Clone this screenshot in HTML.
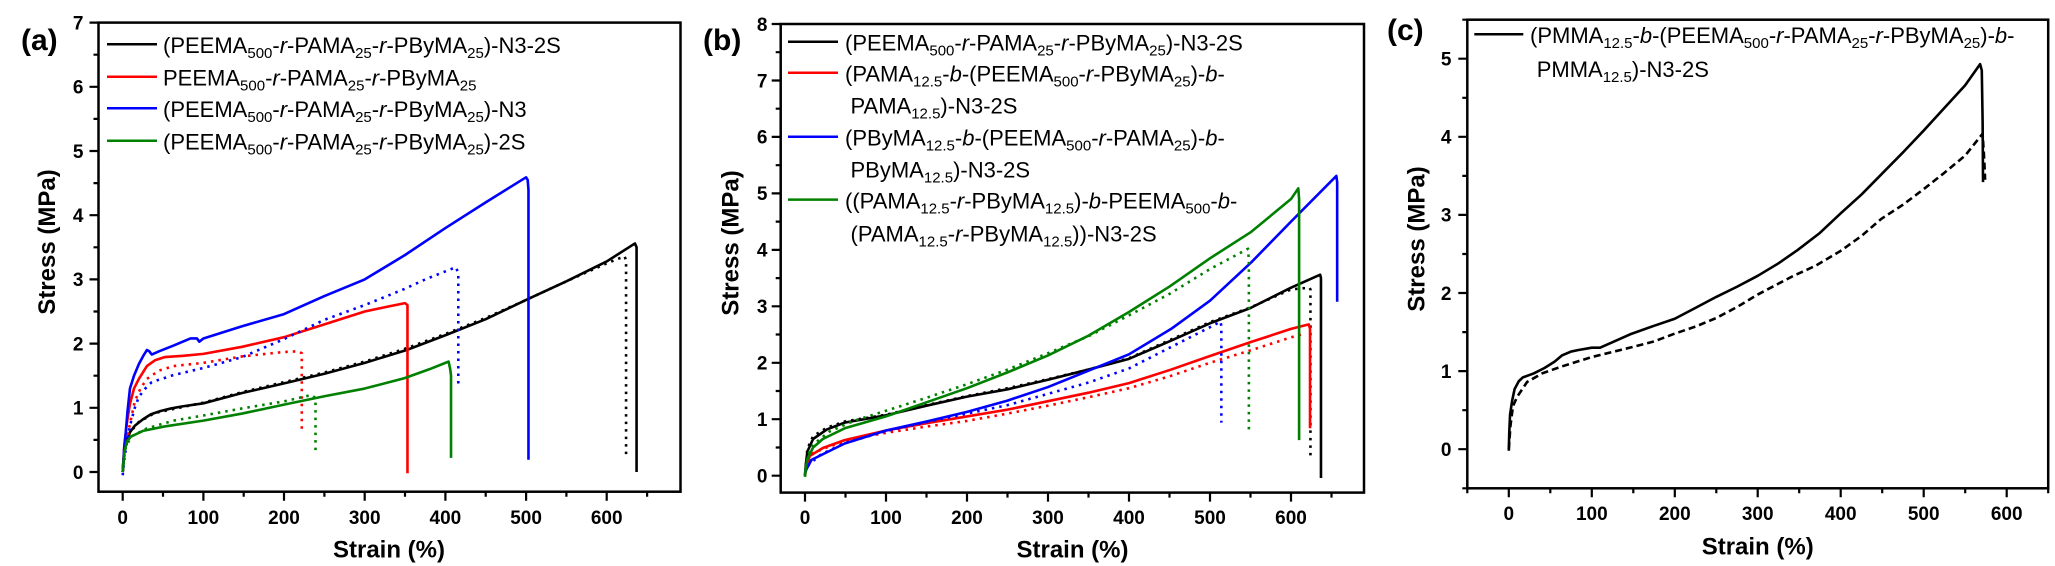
<!DOCTYPE html>
<html><head><meta charset="utf-8"><style>
html,body{margin:0;padding:0;background:#fff;}
svg{display:block;font-family:"Liberation Sans",Arial,sans-serif;}
.fr{fill:none;stroke:#000;stroke-width:2.5;}
.tk{stroke:#000;stroke-width:2.2;fill:none;}
.tl{font-size:19px;font-weight:bold;fill:#000;}
.at{font-size:24px;font-weight:bold;fill:#000;}
.pl{font-size:30px;font-weight:bold;fill:#000;}
.lg{font-size:22px;fill:#000;}
.sb{font-size:15px;}
.it{font-style:italic;}
.d path{fill:none;stroke-width:2.6;vector-effect:non-scaling-stroke;stroke-linejoin:round;}
.d path.dt{stroke-dasharray:2.5 5;}
.d path.ds{stroke-dasharray:7 4;}
</style></head><body>
<svg width="2055" height="566" viewBox="0 0 2055 566" xmlns="http://www.w3.org/2000/svg">
<rect width="2055" height="566" fill="#fff"/>

<!-- ================= PANEL A ================= -->
<text class="pl" x="21" y="50">(a)</text>
<rect class="fr" x="98.5" y="22.6" width="582" height="469.1"/>
<g class="tk">
<path d="M89.5,472H98.5M89.5,407.8H98.5M89.5,343.6H98.5M89.5,279.4H98.5M89.5,215.2H98.5M89.5,151H98.5M89.5,86.8H98.5M89.5,22.6H98.5"/>
<path d="M93.5,439.9H98.5M93.5,375.7H98.5M93.5,311.5H98.5M93.5,247.3H98.5M93.5,183.1H98.5M93.5,118.9H98.5M93.5,54.7H98.5"/>
<path d="M122.7,491.7V500.7M203.4,491.7V500.7M284,491.7V500.7M364.7,491.7V500.7M445.4,491.7V500.7M526.1,491.7V500.7M606.7,491.7V500.7"/>
<path d="M163,491.7V496.7M243.7,491.7V496.7M324.4,491.7V496.7M405,491.7V496.7M485.7,491.7V496.7M566.4,491.7V496.7M647.1,491.7V496.7"/>
</g>
<g class="tl" text-anchor="end">
<text x="83.5" y="478.8">0</text><text x="83.5" y="414.6">1</text><text x="83.5" y="350.4">2</text><text x="83.5" y="286.2">3</text><text x="83.5" y="222">4</text><text x="83.5" y="157.8">5</text><text x="83.5" y="93.6">6</text><text x="83.5" y="29.4">7</text>
</g>
<g class="tl" text-anchor="middle">
<text x="122.7" y="524">0</text><text x="203.4" y="524">100</text><text x="284" y="524">200</text><text x="364.7" y="524">300</text><text x="445.4" y="524">400</text><text x="526.1" y="524">500</text><text x="606.7" y="524">600</text>
</g>
<text class="at" text-anchor="middle" x="389" y="557.5">Strain (%)</text>
<text class="at" text-anchor="middle" transform="translate(55.2,242) rotate(-90)">Stress (MPa)</text>

<g class="d" transform="matrix(0.8067,0,0,-64.2,122.7,472)">
<path stroke="#000" class="dt" d="M0,0 L3,0.4 8,0.6 20,0.78 40,0.92 70,1.0 100,1.08 150,1.25 200,1.4 250,1.55 300,1.72 350,1.92 400,2.15 450,2.4 500,2.68 550,2.97 600,3.25 622,3.36 624,3.3 624,0.2"/>
<path stroke="#000" d="M0,0 L1,0.2 2.5,0.35 4,0.44 9,0.62 15,0.72 25,0.82 35,0.9 47,0.95 60,0.99 73,1.02 100,1.07 148,1.23 200,1.38 250,1.53 300,1.7 352,1.9 400,2.13 450,2.38 500,2.68 550,2.97 600,3.28 635,3.56 637,3.5 637,0"/>
<path stroke="#ff0000" class="dt" d="M0,0 L3,0.4 9,0.75 15,1.1 22,1.3 30,1.45 45,1.58 63,1.65 100,1.7 148,1.8 200,1.87 218,1.88 222,1.85 222,0.64"/>
<path stroke="#ff0000" d="M0,0 L2,0.4 5,0.75 9,1.06 14,1.3 20,1.45 30,1.65 40,1.74 52,1.79 75,1.81 100,1.84 148,1.95 200,2.1 250,2.3 300,2.5 330,2.58 350,2.63 353,2.6 353,-0.02"/>
<path stroke="#0000ff" class="dt" d="M0,-0.05 L2,0.2 5,0.45 9,0.72 15,1.0 20,1.17 28,1.3 36,1.4 63,1.51 100,1.62 148,1.79 200,2.07 250,2.37 300,2.6 349,2.85 375,3.0 413,3.19 416,3.1 416,1.35"/>
<path stroke="#0000ff" d="M0,0 L2,0.4 3.7,0.6 6,0.95 9,1.3 14,1.5 20,1.68 26,1.82 30,1.9 33,1.88 36,1.83 45,1.88 63,1.97 84,2.08 92,2.08 95,2.03 100,2.08 148,2.27 200,2.46 250,2.74 300,3.0 350,3.38 400,3.8 450,4.2 500,4.59 502,4.55 503,4.4 503,0.19"/>
<path stroke="#008000" class="dt" d="M0,0 L3,0.35 10,0.55 30,0.68 63,0.8 100,0.88 148,0.99 200,1.1 234,1.2 239,1.15 239,0.27"/>
<path stroke="#008000" d="M0,0 L2,0.3 5,0.47 10,0.55 25,0.64 52,0.71 100,0.8 148,0.91 200,1.05 250,1.18 300,1.3 349,1.46 380,1.6 400,1.7 404,1.72 406,1.6 407,1.5 407,0.22"/>
</g>

<g>
<line x1="107" y1="44.3" x2="157" y2="44.3" stroke="#000" stroke-width="2.5"/>
<line x1="107" y1="76.7" x2="157" y2="76.7" stroke="#ff0000" stroke-width="2.5"/>
<line x1="107" y1="108.3" x2="157" y2="108.3" stroke="#0000ff" stroke-width="2.5"/>
<line x1="107" y1="140.7" x2="157" y2="140.7" stroke="#008000" stroke-width="2.5"/>
<text class="lg" x="163" y="53">(PEEMA<tspan class="sb" dy="5">500</tspan><tspan dy="-5">-</tspan><tspan class="it">r</tspan>-PAMA<tspan class="sb" dy="5">25</tspan><tspan dy="-5">-</tspan><tspan class="it">r</tspan>-PByMA<tspan class="sb" dy="5">25</tspan><tspan dy="-5">)-N3-2S</tspan></text>
<text class="lg" x="163" y="85.4">PEEMA<tspan class="sb" dy="5">500</tspan><tspan dy="-5">-</tspan><tspan class="it">r</tspan>-PAMA<tspan class="sb" dy="5">25</tspan><tspan dy="-5">-</tspan><tspan class="it">r</tspan>-PByMA<tspan class="sb" dy="5">25</tspan></text>
<text class="lg" x="163" y="117">(PEEMA<tspan class="sb" dy="5">500</tspan><tspan dy="-5">-</tspan><tspan class="it">r</tspan>-PAMA<tspan class="sb" dy="5">25</tspan><tspan dy="-5">-</tspan><tspan class="it">r</tspan>-PByMA<tspan class="sb" dy="5">25</tspan><tspan dy="-5">)-N3</tspan></text>
<text class="lg" x="163" y="149.4">(PEEMA<tspan class="sb" dy="5">500</tspan><tspan dy="-5">-</tspan><tspan class="it">r</tspan>-PAMA<tspan class="sb" dy="5">25</tspan><tspan dy="-5">-</tspan><tspan class="it">r</tspan>-PByMA<tspan class="sb" dy="5">25</tspan><tspan dy="-5">)-2S</tspan></text>
</g>

<!-- ================= PANEL B ================= -->
<text class="pl" x="703" y="50">(b)</text>
<rect class="fr" x="780.7" y="24" width="583.3" height="468.6"/>
<g class="tk">
<path d="M771.7,475.7H780.7M771.7,419.2H780.7M771.7,362.8H780.7M771.7,306.3H780.7M771.7,249.9H780.7M771.7,193.4H780.7M771.7,136.9H780.7M771.7,80.5H780.7M771.7,24H780.7"/>
<path d="M775.7,447.5H780.7M775.7,391H780.7M775.7,334.5H780.7M775.7,278.1H780.7M775.7,221.6H780.7M775.7,165.2H780.7M775.7,108.7H780.7M775.7,52.2H780.7"/>
<path d="M805,492.6V501.6M886,492.6V501.6M967,492.6V501.6M1048,492.6V501.6M1129,492.6V501.6M1210,492.6V501.6M1291,492.6V501.6"/>
<path d="M845.5,492.6V497.6M926.5,492.6V497.6M1007.5,492.6V497.6M1088.5,492.6V497.6M1169.5,492.6V497.6M1250.5,492.6V497.6M1331.5,492.6V497.6"/>
</g>
<g class="tl" text-anchor="end">
<text x="767.5" y="482.5">0</text><text x="767.5" y="426">1</text><text x="767.5" y="369.6">2</text><text x="767.5" y="313.1">3</text><text x="767.5" y="256.7">4</text><text x="767.5" y="200.2">5</text><text x="767.5" y="143.7">6</text><text x="767.5" y="87.3">7</text><text x="767.5" y="30.8">8</text>
</g>
<g class="tl" text-anchor="middle">
<text x="805" y="524">0</text><text x="886" y="524">100</text><text x="967" y="524">200</text><text x="1048" y="524">300</text><text x="1129" y="524">400</text><text x="1210" y="524">500</text><text x="1291" y="524">600</text>
</g>
<text class="at" text-anchor="middle" x="1072.5" y="557.5">Strain (%)</text>
<text class="at" text-anchor="middle" transform="translate(738.6,243) rotate(-90)">Stress (MPa)</text>

<g class="d" transform="matrix(0.81,0,0,-56.46,805,475.7)">
<path stroke="#000" class="dt" d="M0,0 L3,0.48 10,0.7 27,0.85 49,0.96 100,1.08 150,1.25 200,1.41 250,1.55 300,1.71 350,1.88 400,2.08 450,2.4 500,2.72 550,2.98 600,3.3 623,3.33 624,3.3 624,0.3"/>
<path stroke="#000" d="M0,0 L1,0.2 3,0.43 10,0.65 27,0.82 49,0.94 100,1.07 150,1.24 200,1.4 250,1.53 300,1.7 350,1.88 400,2.07 450,2.38 500,2.7 550,2.97 600,3.33 636,3.56 637,3.5 637,-0.04"/>
<path stroke="#ff0000" class="dt" d="M0,0 L3,0.22 10,0.4 30,0.52 70,0.68 100,0.76 150,0.87 200,0.97 250,1.1 300,1.24 350,1.39 400,1.55 450,1.76 500,2.0 550,2.22 600,2.45 618,2.52"/>
<path stroke="#ff0000" d="M0,0 L2,0.2 6,0.35 22,0.49 49,0.63 100,0.8 150,0.93 200,1.05 250,1.17 300,1.32 350,1.47 400,1.64 452,1.88 500,2.12 551,2.37 600,2.6 622,2.68 623.5,2.6 623.5,0.84"/>
<path stroke="#0000ff" class="dt" d="M0,0.05 L5,0.2 20,0.38 50,0.58 100,0.79 150,0.95 200,1.1 250,1.25 300,1.45 350,1.65 400,1.9 452,2.28 500,2.63 513,2.73 514,2.65 514,0.94"/>
<path stroke="#0000ff" d="M0,0.05 L2,0.12 8,0.28 22,0.38 49,0.57 100,0.8 150,0.96 200,1.13 250,1.33 300,1.57 350,1.86 400,2.15 452,2.6 500,3.1 551,3.78 600,4.5 656,5.31 657,5.2 657,3.08"/>
<path stroke="#008000" class="dt" d="M0,0 L3,0.35 10,0.55 30,0.78 60,0.97 100,1.15 150,1.38 200,1.62 250,1.88 300,2.17 350,2.47 400,2.84 450,3.22 500,3.66 547,4.02 548,3.8 548,0.81"/>
<path stroke="#008000" d="M0,-0.02 L1,0.15 3,0.3 10,0.5 22,0.65 49,0.84 100,1.05 150,1.3 200,1.55 250,1.83 300,2.13 350,2.48 400,2.9 450,3.35 500,3.85 551,4.32 600,4.9 609,5.09 610,4.9 610,0.63"/>
</g>

<g>
<line x1="788" y1="41.7" x2="838" y2="41.7" stroke="#000" stroke-width="2.5"/>
<line x1="788" y1="72.7" x2="838" y2="72.7" stroke="#ff0000" stroke-width="2.5"/>
<line x1="788" y1="136.7" x2="838" y2="136.7" stroke="#0000ff" stroke-width="2.5"/>
<line x1="788" y1="199.6" x2="838" y2="199.6" stroke="#008000" stroke-width="2.5"/>
<text class="lg" x="845" y="50.4">(PEEMA<tspan class="sb" dy="5">500</tspan><tspan dy="-5">-</tspan><tspan class="it">r</tspan>-PAMA<tspan class="sb" dy="5">25</tspan><tspan dy="-5">-</tspan><tspan class="it">r</tspan>-PByMA<tspan class="sb" dy="5">25</tspan><tspan dy="-5">)-N3-2S</tspan></text>
<text class="lg" x="845" y="81.4">(PAMA<tspan class="sb" dy="5">12.5</tspan><tspan dy="-5">-</tspan><tspan class="it">b</tspan>-(PEEMA<tspan class="sb" dy="5">500</tspan><tspan dy="-5">-</tspan><tspan class="it">r</tspan>-PByMA<tspan class="sb" dy="5">25</tspan><tspan dy="-5">)-</tspan><tspan class="it">b</tspan>-</text>
<text class="lg" x="850.5" y="113.4">PAMA<tspan class="sb" dy="5">12.5</tspan><tspan dy="-5">)-N3-2S</tspan></text>
<text class="lg" x="845" y="145.4">(PByMA<tspan class="sb" dy="5">12.5</tspan><tspan dy="-5">-</tspan><tspan class="it">b</tspan>-(PEEMA<tspan class="sb" dy="5">500</tspan><tspan dy="-5">-</tspan><tspan class="it">r</tspan>-PAMA<tspan class="sb" dy="5">25</tspan><tspan dy="-5">)-</tspan><tspan class="it">b</tspan>-</text>
<text class="lg" x="850.5" y="177.3">PByMA<tspan class="sb" dy="5">12.5</tspan><tspan dy="-5">)-N3-2S</tspan></text>
<text class="lg" x="845" y="208.3">((PAMA<tspan class="sb" dy="5">12.5</tspan><tspan dy="-5">-</tspan><tspan class="it">r</tspan>-PByMA<tspan class="sb" dy="5">12.5</tspan><tspan dy="-5">)-</tspan><tspan class="it">b</tspan>-PEEMA<tspan class="sb" dy="5">500</tspan><tspan dy="-5">-</tspan><tspan class="it">b</tspan>-</text>
<text class="lg" x="850.5" y="241.5">(PAMA<tspan class="sb" dy="5">12.5</tspan><tspan dy="-5">-</tspan><tspan class="it">r</tspan>-PByMA<tspan class="sb" dy="5">12.5</tspan><tspan dy="-5">))-N3-2S</tspan></text>
</g>

<!-- ================= PANEL C ================= -->
<text class="pl" x="1387" y="40">(c)</text>
<rect class="fr" x="1467.3" y="19.7" width="580.9" height="468.6"/>
<g class="tk">
<path d="M1458.3,449.2H1467.3M1458.3,371.1H1467.3M1458.3,293H1467.3M1458.3,214.9H1467.3M1458.3,136.8H1467.3M1458.3,58.7H1467.3"/>
<path d="M1462.3,488.3H1467.3M1462.3,410.2H1467.3M1462.3,332.1H1467.3M1462.3,254H1467.3M1462.3,175.9H1467.3M1462.3,97.8H1467.3M1462.3,19.7H1467.3"/>
<path d="M1508.8,488.3V497.3M1591.8,488.3V497.3M1674.8,488.3V497.3M1757.7,488.3V497.3M1840.7,488.3V497.3M1923.7,488.3V497.3M2006.7,488.3V497.3"/>
<path d="M1467.3,488.3V493.3M1550.3,488.3V493.3M1633.3,488.3V493.3M1716.3,488.3V493.3M1799.2,488.3V493.3M1882.2,488.3V493.3M1965.2,488.3V493.3M2048.2,488.3V493.3"/>
</g>
<g class="tl" text-anchor="end">
<text x="1451.5" y="456">0</text><text x="1451.5" y="377.9">1</text><text x="1451.5" y="299.8">2</text><text x="1451.5" y="221.7">3</text><text x="1451.5" y="143.6">4</text><text x="1451.5" y="65.5">5</text>
</g>
<g class="tl" text-anchor="middle">
<text x="1508.8" y="520">0</text><text x="1591.8" y="520">100</text><text x="1674.8" y="520">200</text><text x="1757.7" y="520">300</text><text x="1840.7" y="520">400</text><text x="1923.7" y="520">500</text><text x="2006.7" y="520">600</text>
</g>
<text class="at" text-anchor="middle" x="1757.7" y="554.3">Strain (%)</text>
<text class="at" text-anchor="middle" transform="translate(1424.6,239) rotate(-90)">Stress (MPa)</text>

<g class="d" transform="matrix(0.8298,0,0,-78.1,1508.8,449.2)">
<path stroke="#000" class="ds" d="M0,0 L2,0.3 5,0.55 10,0.67 22,0.86 40,0.97 64,1.06 100,1.18 146,1.3 175,1.38 200,1.48 225,1.57 250,1.68 275,1.82 300,1.98 325,2.12 343,2.22 370,2.35 400,2.54 425,2.73 449,2.95 475,3.13 500,3.33 525,3.54 550,3.76 571,4.04 573,3.7 574,3.45"/>
<path stroke="#000" d="M0,-0.02 L0.5,0.2 1.5,0.44 4,0.62 7,0.77 12,0.87 17,0.92 30,0.97 43,1.04 55,1.12 64,1.2 75,1.25 84,1.27 100,1.3 110,1.3 125,1.37 146,1.47 175,1.58 200,1.67 225,1.81 250,1.95 275,2.08 300,2.22 325,2.38 348,2.55 375,2.77 400,3.02 425,3.26 449,3.52 475,3.8 500,4.08 525,4.37 550,4.66 568,4.93 570,4.85 571,4.2 571.5,3.42"/>
</g>

<g>
<line x1="1474.3" y1="34.3" x2="1523.3" y2="34.3" stroke="#000" stroke-width="2.5"/>
<text class="lg" x="1530" y="43">(PMMA<tspan class="sb" dy="5">12.5</tspan><tspan dy="-5">-</tspan><tspan class="it">b</tspan>-(PEEMA<tspan class="sb" dy="5">500</tspan><tspan dy="-5">-</tspan><tspan class="it">r</tspan>-PAMA<tspan class="sb" dy="5">25</tspan><tspan dy="-5">-</tspan><tspan class="it">r</tspan>-PByMA<tspan class="sb" dy="5">25</tspan><tspan dy="-5">)-</tspan><tspan class="it">b</tspan>-</text>
<text class="lg" x="1536.7" y="77">PMMA<tspan class="sb" dy="5">12.5</tspan><tspan dy="-5">)-N3-2S</tspan></text>
</g>
</svg>
</body></html>
